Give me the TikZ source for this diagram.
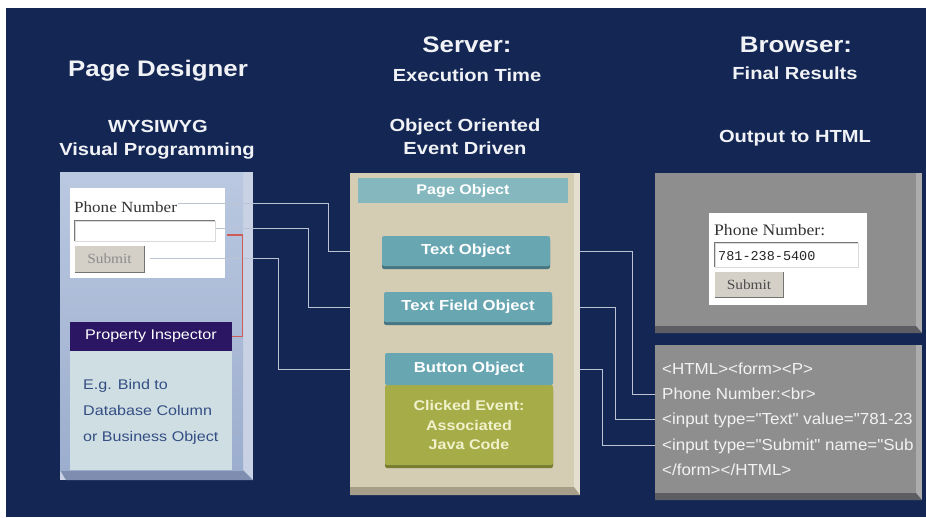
\documentclass[tikz,border=0pt]{standalone}
\usepackage{fontspec}
\setmainfont{Liberation Sans}
\newfontfamily\widesans{Liberation Sans}[FakeStretch=1.15]
\newfontfamily\htmlsans{Liberation Sans}[FakeStretch=1.06]
\newfontfamily\formserif{Liberation Serif}[FakeStretch=1.1]
\newfontfamily\formmono{Liberation Mono}
\usetikzlibrary{shadows}
\pgfdeclarelayer{back}
\pgfdeclarelayer{wires}
\pgfdeclarelayer{slab}
\pgfsetlayers{back,wires,slab,main}

\definecolor{navy}{RGB}{20,39,84}
\definecolor{hdrtext}{RGB}{240,242,246}
\definecolor{wirecol}{RGB}{188,196,212}
\definecolor{lfacetop}{RGB}{186,200,224}
\definecolor{lfacebot}{RGB}{156,174,206}
\definecolor{lside}{RGB}{200,210,228}
\definecolor{lbottom}{RGB}{126,141,176}
\definecolor{inspect}{RGB}{42,22,98}
\definecolor{lowfill}{RGB}{206,222,226}
\definecolor{lowtext}{RGB}{52,78,132}
\definecolor{beige}{RGB}{213,204,180}
\definecolor{beigeside}{RGB}{228,222,206}
\definecolor{beigebot}{RGB}{166,158,136}
\definecolor{pagehdr}{RGB}{132,184,190}
\definecolor{tealface}{RGB}{104,166,178}
\definecolor{tealdark}{RGB}{70,118,130}
\definecolor{olive}{RGB}{166,172,72}
\definecolor{olivedark}{RGB}{118,124,48}
\definecolor{codetext}{RGB}{240,242,204}
\definecolor{grayface}{RGB}{142,142,142}
\definecolor{grayside}{RGB}{172,172,172}
\definecolor{graybot}{RGB}{92,94,100}
\definecolor{htmltext}{RGB}{242,242,242}
\definecolor{bracket}{RGB}{206,92,86}
\definecolor{btnface}{RGB}{212,208,200}
\definecolor{bevel}{RGB}{120,120,120}

\begin{document}
\begin{tikzpicture}[x=1pt,y=-1pt,
  hdr/.style={text=hdrtext,font=\widesans\bfseries\fontsize{22.5}{26}\selectfont,anchor=base,inner sep=0pt},
  subhdr/.style={text=hdrtext,font=\widesans\bfseries\fontsize{17.5}{21}\selectfont,anchor=base,inner sep=0pt},
  wire/.style={draw=wirecol,line width=1pt},
  redwire/.style={draw=bracket,line width=1.4pt},
  objface/.style={fill=tealface,text=white,font=\widesans\bfseries\fontsize{14.5}{17}\selectfont,
    minimum width=168pt,minimum height=30pt,inner sep=0pt,rounded corners=2pt},
  objbox/.style={objface,drop shadow={shadow xshift=0pt,shadow yshift=-3pt,fill=tealdark,opacity=1}},
  codebox/.style={fill=olive,text=codetext,font=\widesans\bfseries\fontsize{14}{19.5}\selectfont,align=center,
    minimum width=168pt,minimum height=80pt,inner sep=0pt,rounded corners=2pt,
    drop shadow={shadow xshift=0pt,shadow yshift=-3pt,fill=olivedark,opacity=1}},
  pagebar/.style={fill=pagehdr,text=white,font=\widesans\bfseries\fontsize{14}{17}\selectfont,
    minimum width=210pt,minimum height=25pt,inner sep=0pt},
  inspbar/.style={fill=inspect,text=white,font=\widesans\fontsize{14}{17}\selectfont,
    minimum width=162pt,minimum height=29pt,inner sep=0pt},
  lowtxt/.style={text=lowtext,font=\widesans\fontsize{14}{17}\selectfont,anchor=base west,inner sep=0pt},
  htmltxt/.style={text=htmltext,font=\htmlsans\fontsize{16}{19}\selectfont,anchor=base west,
    inner xsep=3pt,inner ysep=0pt,text height=12pt,text depth=3pt},
  formwhite/.style={fill=white,inner sep=0pt},
  formtxt/.style={text=black!80,font=\formserif\fontsize{15.5}{18}\selectfont,anchor=west,inner sep=1pt},
  fieldbox/.style={fill=white,draw=black!15,line width=0.8pt,inner sep=0pt},
  btnbox/.style={fill=btnface,font=\formserif\fontsize{14}{16}\selectfont,inner sep=0pt},
  monotxt/.style={text=black!85,font=\formmono\fontsize{13.5}{16}\selectfont,anchor=west,inner sep=0pt}
]
\useasboundingbox (0,0) rectangle (926,517);

\begin{pgfonlayer}{back}
  % page and backdrop
  \fill[white] (0,0) rectangle (926,517);
  \fill[navy] (6,8) rectangle (926,517);
  % left slab: page designer
  \fill[lside] (60,172) rectangle (253,480);
  \fill[lbottom] (60,470) -- (243,470) -- (253,480) -- (66,480) -- cycle;
  \shade[top color=lfacetop,bottom color=lfacebot] (60,172) rectangle (243,470);
  \node[formwhite,minimum width=155pt,minimum height=90pt] (lform) at (147.5,233) {};
\end{pgfonlayer}

\begin{pgfonlayer}{slab}
  % middle slab: server objects
  \fill[beigeside] (350,173) rectangle (580,495);
  \fill[beigebot] (350,487) -- (574,487) -- (580,495) -- (350,495) -- cycle;
  \fill[beige] (350,173) rectangle (574,487);
  % right slabs: browser output and html
  \fill[grayside] (655,173) rectangle (922,333);
  \fill[graybot] (655,326) -- (916,326) -- (922,333) -- (655,333) -- cycle;
  \fill[grayface] (655,173) rectangle (916,326);
  \fill[grayside] (655,345) rectangle (922,500);
  \fill[graybot] (655,493) -- (916,493) -- (922,500) -- (655,500) -- cycle;
  \fill[grayface] (655,345) rectangle (916,493);
\end{pgfonlayer}

% column headings
\node[hdr] (pd) at (158,76) {Page Designer};
\node[subhdr] (wy) at (158,132) {WYSIWYG};
\node[subhdr] (vp) at (157,155) {Visual Programming};
\node[hdr] (sv) at (467,52) {Server:};
\node[subhdr] (et) at (467,81) {Execution Time};
\node[subhdr] (oo) at (465,131) {Object Oriented};
\node[subhdr] (ed) at (465,154) {Event Driven};
\node[hdr] (br) at (796,52) {Browser:};
\node[subhdr] (fr) at (795,79) {Final Results};
\node[subhdr] (oh) at (795,142) {Output to HTML};

% design-time form
\node[formtxt] (lphone) at (73,207) {Phone Number};
\node[fieldbox,minimum width=140pt,minimum height=20pt] (lfield) at (145,231) {};
\draw[bevel,line width=1.4pt] (lfield.south west) -- (lfield.north west) -- (lfield.north east);
\node[btnbox,text=black!45,minimum width=69pt,minimum height=26pt] (lsub) at (109.5,259) {Submit};
\draw[black!55,line width=1pt] (lsub.south west) -- (lsub.south east) -- (lsub.north east);
\draw[white,line width=1pt] (lsub.south west) -- (lsub.north west) -- (lsub.north east);

% property inspector
\node[inspbar] (pinsp) at (151,336.5) {Property Inspector};
\node[fill=lowfill,minimum width=162pt,minimum height=119pt,inner sep=0pt] (lbox) at (151,410.5) {};
\node[lowtxt] (eg1) at (83,389) {E.g. Bind to};
\node[lowtxt] (eg2) at (83,415) {Database Column};
\node[lowtxt] (eg3) at (83,441) {or Business Object};

% server objects
\node[pagebar] (pobj) at (463,190.5) {Page Object};
\node[objbox] (tobj) at (466,251) {Text Object};
\node[objbox] (tfobj) at (468,307) {Text Field Object};
\node[codebox] (bcode) at (469,425) {Clicked Event:\\Associated\\Java Code};
\node[objface,minimum height=32pt] (bobj) at (469,369) {Button Object};

% rendered page
\node[formwhite,minimum width=158pt,minimum height=92pt] (rform) at (788,259) {};
\node[formtxt,font=\formserif\fontsize{16}{18}\selectfont] (rphone) at (713,230) {Phone Number:};
\node[fieldbox,minimum width=143pt,minimum height=24pt] (rfield) at (786.5,255) {};
\draw[bevel,line width=1.4pt] (rfield.south west) -- (rfield.north west) -- (rfield.north east);
\node[monotxt] (rval) at (718,256) {781-238-5400};
\node[btnbox,text=black!70,minimum width=68pt,minimum height=25pt] (rsub) at (749,284.5) {Submit};
\draw[black!55,line width=1pt] (rsub.south west) -- (rsub.south east) -- (rsub.north east);
\draw[white,line width=1pt] (rsub.south west) -- (rsub.north west) -- (rsub.north east);

% generated html
\node[htmltxt] (hl1) at (659,374) {<HTML><form><P>};
\node[htmltxt] (hl2) at (659,399) {Phone Number:<br>};
\node[htmltxt] (hl3) at (659,424) {<input type="Text" value="781-23};
\node[htmltxt] (hl4) at (659,450) {<input type="Submit" name="Sub};
\node[htmltxt] (hl5) at (659,475) {</form></HTML>};

% connectors from design elements to objects, objects to html
\begin{pgfonlayer}{wires}
  \draw[wire] ([yshift=4pt]lphone.east) -- ++(150,0) |- (tobj.west);
  \draw[wire] ([yshift=3pt]lfield.east) -- ++(93,0) |- (tfobj.west);
  \draw[wire] ([xshift=6pt,yshift=1pt]lsub.east) -- ++(128,0) |- (bobj.west);
  \draw[wire] (tobj.east) -- ++(82,0) |- (hl2.west);
  \draw[wire] (tfobj.east) -- ++(63,0) |- (hl3.west);
  \draw[wire] (bobj.east) -- ++(49,0) |- (hl4.west);
\end{pgfonlayer}

% binding bracket to the inspector
\draw[redwire] ([xshift=12pt,yshift=-4pt]lfield.east) -- ++(15,0) |- (pinsp.east);
\end{tikzpicture}
\end{document}
